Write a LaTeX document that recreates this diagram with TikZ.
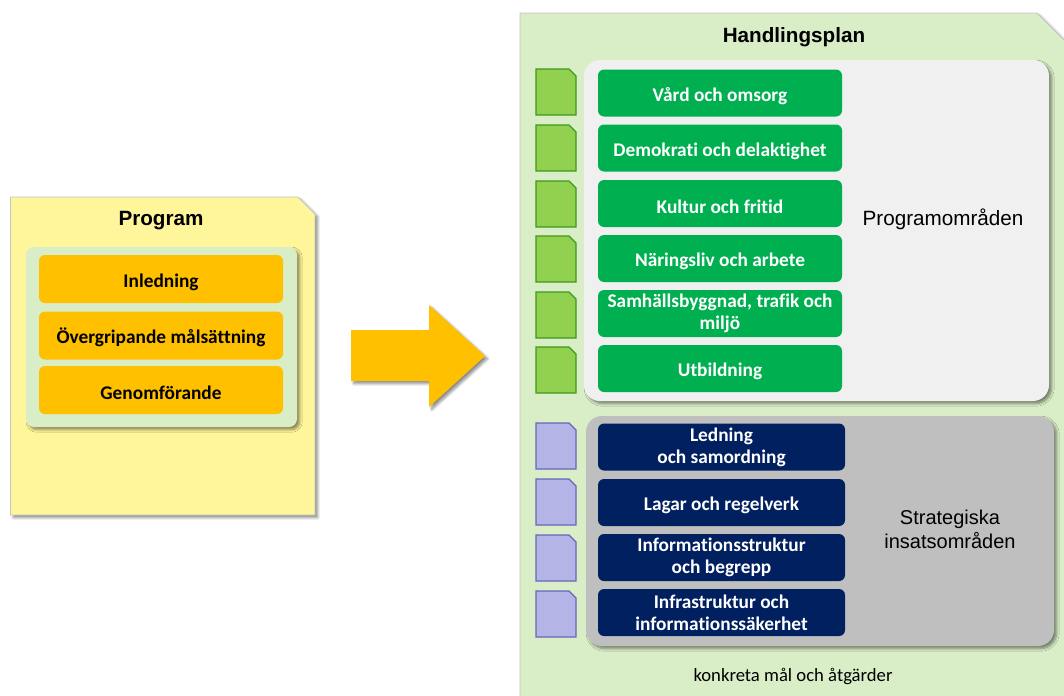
\documentclass[tikz,border=0pt]{standalone}
\usepackage{fontspec}
\setmainfont[Ligatures=NoCommon]{Carlito}
\newfontfamily\arialfont{Liberation Sans}
\usetikzlibrary{shadows.blur}

\definecolor{docyellow}{HTML}{FFF59A}
\definecolor{docedge}{HTML}{C4C4C4}
\definecolor{paleleaf}{HTML}{D9EDC7}
\definecolor{amber}{HTML}{FFC000}
\definecolor{leafgreen}{HTML}{00B050}
\definecolor{iconlime}{HTML}{92D050}
\definecolor{iconlimeedge}{HTML}{3C9A1E}
\definecolor{iconlilac}{HTML}{B4B4E6}
\definecolor{iconlilacedge}{HTML}{6666BB}
\definecolor{panelwhite}{HTML}{F0F0F0}
\definecolor{panelgrey}{HTML}{BFBFBF}
\definecolor{navy}{HTML}{002060}

\begin{document}
\begin{tikzpicture}[x=0.75pt,y=-0.75pt,
  softshadow/.style={blur shadow={shadow xshift=2pt,shadow yshift=-2pt,
      shadow blur steps=6,shadow opacity=45}},
  boxtext/.style={font=\bfseries\fontsize{14.5}{16.5}\selectfont,align=center,
      inner sep=0pt,rounded corners=4.5pt,
      execute at begin node={\rule{0pt}{14.5pt}}},
  orangebox/.style={boxtext,fill=amber,text=black,
      minimum width=183pt,minimum height=36pt},
  greenbox/.style={boxtext,fill=leafgreen,text=white,
      minimum width=183pt,minimum height=35.25pt},
  navybox/.style={boxtext,fill=navy,text=white,
      minimum width=185.25pt,minimum height=35.25pt},
  title/.style={font=\arialfont\bfseries\fontsize{15.5}{18}\selectfont},
  areatext/.style={font=\arialfont\fontsize{15.5}{18}\selectfont,align=center},
  limeicon/.style={fill=iconlime,draw=iconlimeedge,line width=0.9pt},
  lilacicon/.style={fill=iconlilac,draw=iconlilacedge,line width=0.9pt}]

\useasboundingbox (0,0) rectangle (1064,696);
\clip (0,0) rectangle (1064,696);

% --- Program document ---
\path[fill=docyellow,draw=docedge,line width=0.6pt,softshadow]
  (10.5,197) -- (298,197) -- (315,214) -- (315,515) -- (10.5,515) -- cycle;
\node[title] (progtitle) at (161,221) {Program};
\path[fill=paleleaf,rounded corners=6pt,softshadow]
  (26,247) rectangle (297,427);
\node[orangebox] (inledning) at (161,279) {Inledning};
\node[orangebox] (malsattning) at (161,335.5) {Övergripande målsättning};
\node[orangebox] (genomforande) at (161,390) {Genomförande};

% --- big arrow ---
\path[fill=amber,softshadow]
  (351,330) -- (429,330) -- (429,305) -- (485,356) -- (429,407)
  -- (429,381) -- (351,381) -- cycle;

% --- Handlingsplan document ---
\path[fill=paleleaf,draw=docedge,line width=0.6pt,softshadow]
  (520,13) -- (1037,13) -- (1080,56) -- (1080,720) -- (520,720) -- cycle;
\node[title] (plantitle) at (794,37.5) {Handlingsplan};

% programme areas
\path[fill=panelwhite,rounded corners=12pt,softshadow]
  (584,60) rectangle (1049,401);
\foreach \t in {69,125,181,236,292,347}
  \path[limeicon] (536,\t) -- (569,\t) -- (576,\t+7) -- (576,\t+46)
    -- (536,\t+46) -- cycle;
\node[greenbox] (vard) at (720,93) {Vård och omsorg};
\node[greenbox] (demokrati) at (720,148) {Demokrati och delaktighet};
\node[greenbox] (kultur) at (720,203.5) {Kultur och fritid};
\node[greenbox] (naringsliv) at (720,258.5) {Näringsliv och arbete};
\node[greenbox] (samhalle) at (720,313.5) {Samhällsbyggnad, trafik och\\miljö};
\node[greenbox] (utbildning) at (720,368.5) {Utbildning};
\node[areatext] (progomr) at (943,219.5) {Programområden};

% strategic areas
\path[fill=panelgrey,rounded corners=12pt,softshadow]
  (586,416) rectangle (1054,646);
\foreach \t in {423,479,535,591}
  \path[lilacicon] (536,\t) -- (569,\t) -- (576,\t+7) -- (576,\t+46)
    -- (536,\t+46) -- cycle;
\node[navybox] (ledning) at (721.5,447) {Ledning\\och samordning};
\node[navybox] (lagar) at (721.5,502.5) {Lagar och regelverk};
\node[navybox] (infostruktur) at (721.5,557.5) {Informationsstruktur\\och begrepp};
\node[navybox] (infrastruktur) at (721.5,612.5) {Infrastruktur och\\informationssäkerhet};
\node[areatext,font=\arialfont\fontsize{15}{18}\selectfont] (strat) at (950,529)
  {Strategiska\\insatsområden};

\node[font=\fontsize{14}{16}\selectfont] (konkreta) at (793,676.5)
  {konkreta mål och åtgärder};
\end{tikzpicture}
\end{document}
